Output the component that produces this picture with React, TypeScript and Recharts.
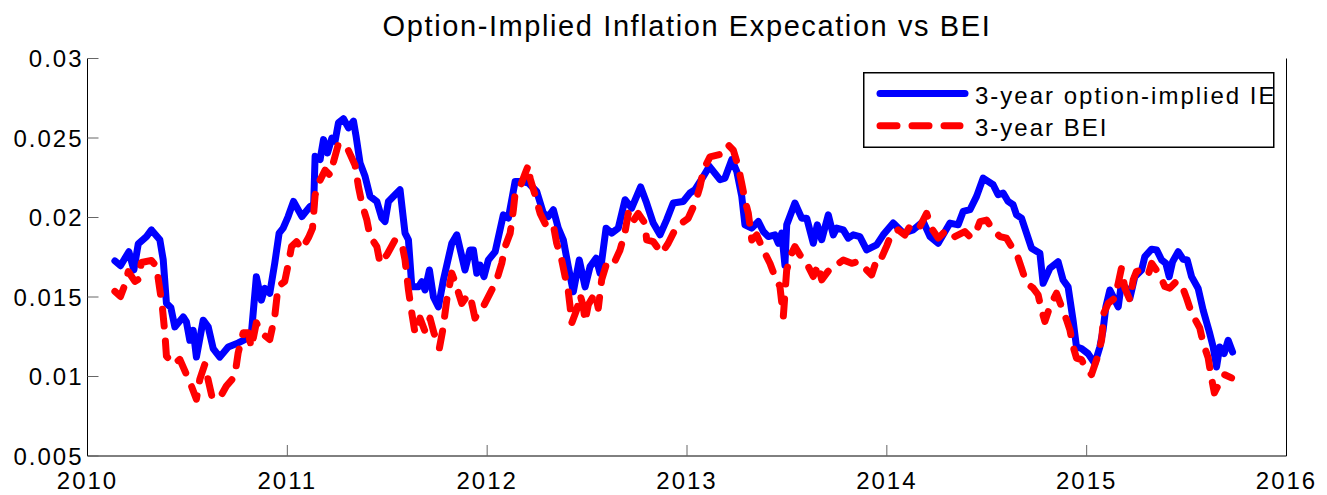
import React from 'react';
import { LineChart, Line, XAxis, YAxis, Legend } from 'recharts';

const ieDates = [
  2010.137, 2010.165, 2010.207, 2010.232, 2010.254, 2010.295, 2010.320, 2010.362, 2010.379, 2010.395,
  2010.417, 2010.437, 2010.479, 2010.495, 2010.512, 2010.529, 2010.545, 2010.579, 2010.604, 2010.629,
  2010.662, 2010.704, 2010.754, 2010.787, 2010.820, 2010.845, 2010.870, 2010.887, 2010.912, 2010.937,
  2010.959, 2010.979, 2011.004, 2011.031, 2011.073, 2011.114, 2011.131, 2011.139, 2011.164, 2011.181,
  2011.201, 2011.223, 2011.239, 2011.256, 2011.281, 2011.306, 2011.331, 2011.344, 2011.364, 2011.389,
  2011.414, 2011.448, 2011.473, 2011.489, 2011.506, 2011.539, 2011.564, 2011.589, 2011.606, 2011.623,
  2011.656, 2011.673, 2011.689, 2011.711, 2011.731, 2011.756, 2011.781, 2011.823, 2011.848, 2011.889,
  2011.914, 2011.931, 2011.948, 2011.964, 2011.984, 2012.006, 2012.040, 2012.081, 2012.106, 2012.140,
  2012.173, 2012.206, 2012.248, 2012.281, 2012.306, 2012.331, 2012.356, 2012.381, 2012.406, 2012.431,
  2012.461, 2012.490, 2012.515, 2012.545, 2012.565, 2012.595, 2012.623, 2012.656, 2012.690, 2012.723,
  2012.768, 2012.798, 2012.831, 2012.865, 2012.898, 2012.931, 2012.981, 2013.015, 2013.040, 2013.082,
  2013.112, 2013.165, 2013.190, 2013.224, 2013.249, 2013.274, 2013.290, 2013.324, 2013.357, 2013.382,
  2013.407, 2013.440, 2013.457, 2013.474, 2013.490, 2013.499, 2013.540, 2013.574, 2013.599, 2013.632,
  2013.652, 2013.674, 2013.707, 2013.732, 2013.749, 2013.782, 2013.807, 2013.832, 2013.865, 2013.899,
  2013.949, 2013.982, 2014.032, 2014.082, 2014.132, 2014.182, 2014.216, 2014.257, 2014.316, 2014.357,
  2014.382, 2014.416, 2014.449, 2014.482, 2014.532, 2014.557, 2014.582, 2014.607, 2014.632, 2014.649,
  2014.674, 2014.699, 2014.724, 2014.766, 2014.782, 2014.816, 2014.857, 2014.882, 2014.907, 2014.932,
  2014.949, 2014.974, 2015.007, 2015.041, 2015.066, 2015.082, 2015.096, 2015.116, 2015.158, 2015.174,
  2015.199, 2015.216, 2015.241, 2015.275, 2015.291, 2015.325, 2015.350, 2015.375, 2015.396, 2015.413,
  2015.430, 2015.458, 2015.483, 2015.503, 2015.525, 2015.558, 2015.583, 2015.616, 2015.633, 2015.650,
  2015.666, 2015.688, 2015.708, 2015.730,
];

const ieValues = [
  0.01727, 0.01697, 0.01785, 0.0167, 0.01834, 0.0188, 0.01922, 0.0186, 0.01733, 0.0146,
  0.01434, 0.01312, 0.01375, 0.01343, 0.01228, 0.0129, 0.01122, 0.01354, 0.01312, 0.01176,
  0.01122, 0.01186, 0.01211, 0.01232, 0.0127, 0.01628, 0.0148, 0.01554, 0.01523, 0.01712,
  0.01902, 0.01933, 0.02006, 0.02101, 0.02006, 0.0207, 0.02049, 0.02385, 0.02364, 0.0249,
  0.02406, 0.025, 0.0248, 0.02596, 0.02621, 0.02564, 0.02606, 0.02511, 0.02343, 0.02259,
  0.02133, 0.02101, 0.01996, 0.01975, 0.02101, 0.02143, 0.02175, 0.01902, 0.0186, 0.01564,
  0.01564, 0.01596, 0.01544, 0.0167, 0.01501, 0.01438, 0.01607, 0.01838, 0.01891, 0.0167,
  0.01796, 0.01796, 0.01649, 0.01701, 0.01628, 0.01733, 0.01785, 0.02017, 0.01996, 0.02227,
  0.02227, 0.02217, 0.02164, 0.02028, 0.02006, 0.02049, 0.01933, 0.0186, 0.01691, 0.01533,
  0.01733, 0.01564, 0.01691, 0.01744, 0.01649, 0.01933, 0.01902, 0.01933, 0.02112, 0.02059,
  0.02192, 0.02091, 0.01965, 0.01891, 0.01985, 0.02091, 0.02101, 0.02154, 0.02175, 0.02259,
  0.02322, 0.02238, 0.02248, 0.02364, 0.0229, 0.02133, 0.01954, 0.01933, 0.01975, 0.01912,
  0.0188, 0.01891, 0.01838, 0.01902, 0.01701, 0.01954, 0.02091, 0.01996, 0.01996, 0.01838,
  0.01954, 0.0186, 0.02017, 0.01891, 0.01933, 0.01922, 0.0187, 0.01891, 0.0188, 0.01796,
  0.01828, 0.01891, 0.01965, 0.01902, 0.01922, 0.01975, 0.0188, 0.01838, 0.01965, 0.01954,
  0.02038, 0.02049, 0.02133, 0.02248, 0.02206, 0.02143, 0.02154, 0.02101, 0.0208, 0.02017,
  0.01996, 0.01902, 0.01807, 0.01775, 0.01586, 0.01681, 0.01722, 0.01607, 0.01564, 0.01354,
  0.01186, 0.01176, 0.01144, 0.01081, 0.01186, 0.01291, 0.01438, 0.01544, 0.01438, 0.01586,
  0.01554, 0.01491, 0.01628, 0.0167, 0.01754, 0.01801, 0.01796, 0.01733, 0.01712, 0.01628,
  0.01722, 0.01785, 0.01737, 0.01733, 0.01628, 0.01554, 0.01417, 0.0127, 0.01186, 0.0106,
  0.01186, 0.01144, 0.01228, 0.01154,
];

const beiDates = [
  2010.137, 2010.165, 2010.187, 2010.204, 2010.237, 2010.254, 2010.270, 2010.320, 2010.345, 2010.362,
  2010.374, 2010.387, 2010.395, 2010.429, 2010.462, 2010.495, 2010.520, 2010.545, 2010.562, 2010.587,
  2010.607, 2010.624, 2010.662, 2010.695, 2010.737, 2010.754, 2010.779, 2010.804, 2010.820, 2010.845,
  2010.870, 2010.912, 2010.937, 2010.954, 2010.987, 2011.004, 2011.021, 2011.046, 2011.073, 2011.106,
  2011.126, 2011.139, 2011.164, 2011.189, 2011.214, 2011.231, 2011.256, 2011.298, 2011.339, 2011.356,
  2011.373, 2011.398, 2011.414, 2011.448, 2011.464, 2011.498, 2011.539, 2011.573, 2011.589, 2011.606,
  2011.623, 2011.639, 2011.664, 2011.689, 2011.714, 2011.734, 2011.761, 2011.778, 2011.798, 2011.823,
  2011.839, 2011.873, 2011.898, 2011.914, 2011.939, 2011.964, 2011.981, 2012.015, 2012.048, 2012.073,
  2012.090, 2012.115, 2012.131, 2012.140, 2012.165, 2012.190, 2012.206, 2012.215, 2012.240, 2012.265,
  2012.298, 2012.331, 2012.348, 2012.373, 2012.390, 2012.406, 2012.415, 2012.423, 2012.448, 2012.465,
  2012.481, 2012.490, 2012.506, 2012.540, 2012.556, 2012.573, 2012.598, 2012.631, 2012.665, 2012.690,
  2012.706, 2012.723, 2012.756, 2012.790, 2012.798, 2012.831, 2012.873, 2012.906, 2012.948, 2013.006,
  2013.040, 2013.065, 2013.082, 2013.115, 2013.182, 2013.207, 2013.232, 2013.257, 2013.274, 2013.290,
  2013.307, 2013.324, 2013.349, 2013.382, 2013.415, 2013.440, 2013.465, 2013.482, 2013.499, 2013.524,
  2013.540, 2013.565, 2013.599, 2013.632, 2013.657, 2013.674, 2013.699, 2013.724, 2013.749, 2013.782,
  2013.824, 2013.857, 2013.882, 2013.924, 2013.949, 2013.965, 2013.999, 2014.024, 2014.057, 2014.090,
  2014.124, 2014.165, 2014.199, 2014.224, 2014.257, 2014.299, 2014.340, 2014.390, 2014.416, 2014.441,
  2014.466, 2014.499, 2014.532, 2014.566, 2014.599, 2014.624, 2014.649, 2014.674, 2014.699, 2014.732,
  2014.757, 2014.774, 2014.791, 2014.816, 2014.849, 2014.874, 2014.899, 2014.916, 2014.932, 2014.949,
  2014.974, 2014.991, 2015.024, 2015.058, 2015.075, 2015.086, 2015.108, 2015.141, 2015.158, 2015.174,
  2015.191, 2015.216, 2015.233, 2015.249, 2015.275, 2015.308, 2015.325, 2015.366, 2015.391, 2015.416,
  2015.449, 2015.475, 2015.500, 2015.525, 2015.566, 2015.583, 2015.608, 2015.623, 2015.639, 2015.656,
  2015.689, 2015.725,
];

const beiValues = [
  0.01535, 0.01503, 0.01577, 0.0166, 0.01598, 0.0161, 0.01717, 0.0173, 0.01692, 0.01546,
  0.01442, 0.01275, 0.01128, 0.01076, 0.01108, 0.01013, 0.0094, 0.00857, 0.00982, 0.01076,
  0.0096, 0.00866, 0.00866, 0.0094, 0.01002, 0.01149, 0.01275, 0.01275, 0.01181, 0.01338,
  0.01275, 0.01232, 0.01378, 0.01567, 0.01598, 0.01702, 0.01817, 0.01848, 0.01801, 0.01874,
  0.01932, 0.02141, 0.02235, 0.02298, 0.02266, 0.0235, 0.02465, 0.02443, 0.02329, 0.02193,
  0.02089, 0.01984, 0.0188, 0.01817, 0.01712, 0.01765, 0.01859, 0.01837, 0.01733, 0.01545,
  0.01398, 0.01273, 0.01367, 0.01284, 0.01367, 0.01273, 0.01179, 0.01294, 0.01482, 0.0165,
  0.01597, 0.0146, 0.01503, 0.01514, 0.01367, 0.01419, 0.01441, 0.01524, 0.01608, 0.01712,
  0.01817, 0.01901, 0.02047, 0.02152, 0.02193, 0.02277, 0.02329, 0.02246, 0.02141, 0.02026,
  0.01942, 0.01953, 0.01838, 0.01733, 0.01629, 0.01535, 0.0144, 0.01336, 0.01419, 0.01514,
  0.0144, 0.01346, 0.01451, 0.01524, 0.01429, 0.01608, 0.01712, 0.01702, 0.01796, 0.0191,
  0.02026, 0.01963, 0.02026, 0.01963, 0.01859, 0.01848, 0.01775, 0.01838, 0.01942, 0.01995,
  0.02089, 0.02193, 0.02298, 0.02381, 0.02402, 0.02455, 0.02423, 0.02318, 0.02214, 0.0211,
  0.02026, 0.01859, 0.0189, 0.01796, 0.01712, 0.01629, 0.01566, 0.01378, 0.01671, 0.01775,
  0.01817, 0.01765, 0.01712, 0.01629, 0.01702, 0.01608, 0.0165, 0.01691, 0.01702, 0.01733,
  0.01712, 0.01723, 0.01691, 0.01639, 0.01733, 0.01723, 0.0182, 0.01901, 0.01922, 0.0189,
  0.01963, 0.01942, 0.02026, 0.01932, 0.0187, 0.01922, 0.0188, 0.01911, 0.0188, 0.0189,
  0.01974, 0.01984, 0.01922, 0.0188, 0.0187, 0.01817, 0.01775, 0.01681, 0.01587, 0.01556,
  0.01514, 0.01419, 0.01346, 0.0144, 0.01524, 0.0144, 0.01357, 0.01294, 0.01189, 0.01116,
  0.01106, 0.01064, 0.01012, 0.01137, 0.01231, 0.01399, 0.0146, 0.01493, 0.01587, 0.01681,
  0.01556, 0.01482, 0.01608, 0.0166, 0.01671, 0.01639, 0.01712, 0.01639, 0.01566, 0.01556,
  0.01598, 0.01577, 0.01493, 0.01399, 0.01305, 0.01211, 0.01117, 0.01001, 0.00897, 0.00939,
  0.01012, 0.00991,
];

const xTicks = [2010, 2011, 2012, 2013, 2014, 2015, 2016];
const yTicks = [0.005, 0.01, 0.015, 0.02, 0.025, 0.03];
const seriesNames = ['3-year option-implied IE', '3-year BEI'];
const titleText = 'Option-Implied Inflation Expecation vs BEI';

const ieData = ieDates.map((t, i) => ({ t, v: ieValues[i] }));
const beiData = beiDates.map((t, i) => ({ t, v: beiValues[i] }));

const FONT = '"Liberation Sans", Arial, Helvetica, sans-serif';
const BLUE = '#0000ff';
const RED = '#ff0000';
const DASH = '17 15';

const tickStyle = { fontSize: 24, fill: '#000', fontFamily: FONT, letterSpacing: 2 };

function LegendBox() {
  return (
    <svg width={413} height={77} style={{ display: 'block', overflow: 'visible' }}>
      <rect x={0.75} y={0.75} width={410} height={74.5} fill="#fff" stroke="#000" strokeWidth={1.5} />
      <line x1={17} x2={102} y1={21.5} y2={21.5} stroke={BLUE} strokeWidth={7} strokeLinecap="round" />
      <text x={112} y={31.5} fontSize={24} letterSpacing={2} fontFamily={FONT} fill="#000">
        {seriesNames[0]}
      </text>
      <line
        x1={17}
        x2={97}
        y1={53.7}
        y2={53.7}
        stroke={RED}
        strokeWidth={7}
        strokeLinecap="round"
        strokeDasharray={DASH}
      />
      <text x={112} y={64} fontSize={24} letterSpacing={2} fontFamily={FONT} fill="#000">
        {seriesNames[1]}
      </text>
    </svg>
  );
}

const fmtY = (v: number) => String(parseFloat(Number(v).toFixed(3)));

export default function App() {
  return (
    <div style={{ position: 'absolute', left: 0, top: 0, width: 1327, height: 495, background: '#fff' }}>
      <LineChart width={1327} height={495} margin={{ top: 58.5, right: 0.5, bottom: 0, left: 7.5 }}>
        <XAxis
          xAxisId="b"
          dataKey="t"
          type="number"
          orientation="bottom"
          domain={[2010, 2016]}
          ticks={xTicks}
          interval={0}
          height={39}
          stroke="#000"
          tickSize={-11}
          tickMargin={27}
          tickLine={{ stroke: '#666' }}
          tick={tickStyle}
          allowDataOverflow
        />
        <XAxis
          xAxisId="t"
          dataKey="t"
          type="number"
          orientation="top"
          domain={[2010, 2016]}
          ticks={xTicks}
          interval={0}
          height={0}
          stroke="#000"
          tickSize={-11}
          tickLine={{ stroke: '#666' }}
          tick={false}
          allowDataOverflow
        />
        <YAxis
          yAxisId="l"
          type="number"
          orientation="left"
          domain={[0.005, 0.03]}
          ticks={yTicks}
          interval={0}
          width={80}
          stroke="#000"
          tickSize={-11}
          tickMargin={15}
          tickLine={{ stroke: '#666' }}
          tick={tickStyle}
          tickFormatter={fmtY}
          allowDataOverflow
        />
        <YAxis
          yAxisId="r"
          type="number"
          orientation="right"
          domain={[0.005, 0.03]}
          ticks={yTicks}
          interval={0}
          width={40}
          stroke="#000"
          tickSize={-11}
          tickLine={{ stroke: '#666' }}
          tick={false}
          allowDataOverflow
        />
        <Line
          xAxisId="b"
          yAxisId="l"
          data={ieData}
          dataKey="v"
          name={seriesNames[0]}
          type="linear"
          stroke={BLUE}
          strokeWidth={7}
          strokeLinejoin="round"
          strokeLinecap="round"
          dot={false}
          activeDot={false}
          isAnimationActive={false}
        />
        <Line
          xAxisId="b"
          yAxisId="l"
          data={beiData}
          dataKey="v"
          name={seriesNames[1]}
          type="linear"
          stroke={RED}
          strokeWidth={7}
          strokeLinejoin="round"
          strokeLinecap="round"
          strokeDasharray={DASH}
          dot={false}
          activeDot={false}
          isAnimationActive={false}
        />
        <Legend
          layout="horizontal"
          align="center"
          verticalAlign="middle"
          content={() => <LegendBox />}
          wrapperStyle={{ left: 863, top: 72, width: 413, height: 77 }}
        />
      </LineChart>
      <svg
        width={1327}
        height={50}
        style={{ position: 'absolute', left: 0, top: 0, pointerEvents: 'none' }}
      >
        <text
          x={687}
          y={35.5}
          textAnchor="middle"
          fontSize={29}
          letterSpacing={1.6}
          fontFamily={FONT}
          fill="#000"
        >
          {titleText}
        </text>
      </svg>
    </div>
  );
}
